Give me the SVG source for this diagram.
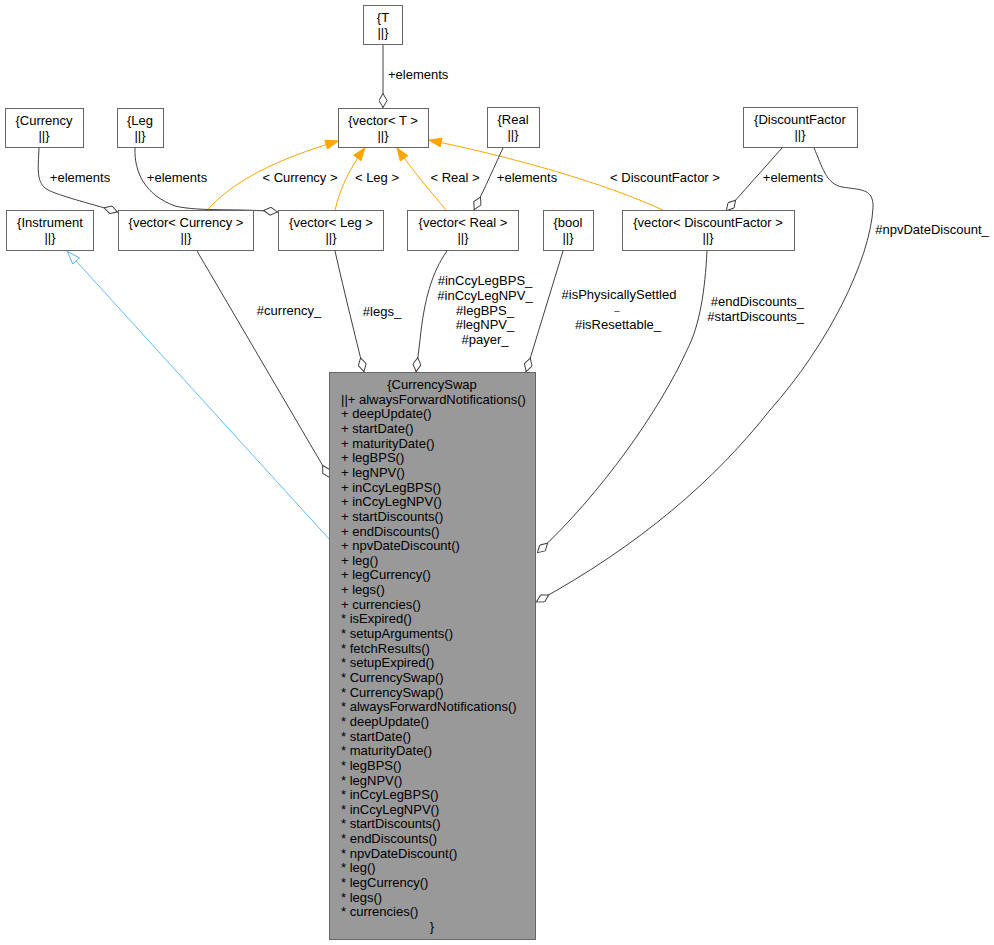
<svg xmlns="http://www.w3.org/2000/svg" width="994" height="945" viewBox="0 0 994 945">
<style>
text{font-family:"Liberation Sans",Arial,sans-serif;font-size:13px;fill:#000}
.box{fill:#fff;stroke:#666;stroke-width:1}
.main{fill:#999;stroke:#666;stroke-width:1}
.c{text-anchor:middle}
.e{text-anchor:end}
.gray{fill:none;stroke:#404040;stroke-width:1}
.orange{fill:none;stroke:#ffa500;stroke-width:1}
.blue{fill:none;stroke:#63b8ff;stroke-width:1}
</style>
<defs>
<marker id="dia" viewBox="0 0 15 9" refX="15" refY="4.5" markerWidth="15" markerHeight="9" markerUnits="userSpaceOnUse" orient="auto"><path d="M0.5,4.5 L7.5,0.5 L14.5,4.5 L7.5,8.5 Z" fill="#fff" stroke="#404040"/></marker>
<marker id="arrO" viewBox="0 0 13 10" refX="13" refY="5" markerWidth="13" markerHeight="10" markerUnits="userSpaceOnUse" orient="auto"><path d="M0.5,0.5 L13,5 L0.5,9.5 Z" fill="#ffa500" stroke="#ffa500"/></marker>
<marker id="arrB" viewBox="0 0 14 10" refX="14" refY="5" markerWidth="14" markerHeight="10" markerUnits="userSpaceOnUse" orient="auto"><path d="M0.5,0.5 L13.5,5 L0.5,9.5 Z" fill="#fff" stroke="#63b8ff"/></marker>
</defs>
<rect width="994" height="945" fill="#fff"/>
<g id="edges">
<path class="gray" d="M383,45 L383,108" marker-end="url(#dia)"/>
<text x="388" y="79">+elements</text>
<path class="orange" d="M207,210 C235,180 275,160 338,141" marker-end="url(#arrO)"/>
<text class="c" x="300" y="182">&lt; Currency &gt;</text>
<path class="orange" d="M335,210 C340,190 348,170 365,148" marker-end="url(#arrO)"/>
<text class="c" x="377" y="182">&lt; Leg &gt;</text>
<path class="orange" d="M446,210 C432,193 412,170 397,148" marker-end="url(#arrO)"/>
<text class="c" x="455" y="182">&lt; Real &gt;</text>
<path class="orange" d="M665,211 C620,190 540,163 429,140" marker-end="url(#arrO)"/>
<text class="c" x="665" y="182">&lt; DiscountFactor &gt;</text>
<path class="gray" d="M39,148 C38,170 36,183 48,190 C60,196 85,202 118,212" marker-end="url(#dia)"/>
<text class="c" x="80" y="182">+elements</text>
<path class="gray" d="M135,148 C134,172 145,195 175,206 C200,212 240,208 278,212" marker-end="url(#dia)"/>
<text class="c" x="177" y="182">+elements</text>
<path class="gray" d="M503,148 C496,163 485,188 474,210" marker-end="url(#dia)"/>
<text class="c" x="527" y="182">+elements</text>
<path class="gray" d="M782,148 L726,211" marker-end="url(#dia)"/>
<text class="c" x="793" y="182">+elements</text>
<path class="gray" d="M814,148 C822,166 826,184 842,187 C860,190 874,188 873,208 C870,260 828,345 770,410 C715,480 640,545 536,602" marker-end="url(#dia)"/>
<text class="c" x="932" y="234">#npvDateDiscount_</text>
<path class="blue" d="M330,540 L67,251" marker-end="url(#arrB)"/>
<path class="gray" d="M197,251 L330,478" marker-end="url(#dia)"/>
<text class="c" x="289" y="315">#currency_</text>
<path class="gray" d="M335,251 C345,295 355,335 364,372" marker-end="url(#dia)"/>
<text class="c" x="382" y="316">#legs_</text>
<path class="gray" d="M447,251 C432,272 424,300 420,340 L416,372" marker-end="url(#dia)"/>
<text class="c" x="485" y="285">#inCcyLegBPS_</text>
<text class="c" x="485" y="300">#inCcyLegNPV_</text>
<text class="c" x="485" y="315">#legBPS_</text>
<text class="c" x="485" y="329">#legNPV_</text>
<text class="c" x="485" y="344">#payer_</text>
<path class="gray" d="M563,251 L526,372" marker-end="url(#dia)"/>
<text class="c" x="619" y="299">#isPhysicallySettled</text>
<text class="c" x="617" y="310" style="font-size:9px">_</text>
<text class="c" x="618" y="329">#isResettable_</text>
<path class="gray" d="M707,251 C705,290 700,325 687,350 C660,410 600,495 537,553" marker-end="url(#dia)"/>
<text class="e" x="804" y="306">#endDiscounts_</text>
<text class="e" x="804" y="321">#startDiscounts_</text>
</g>
<g id="node_T"><rect class="box" x="363.5" y="5.5" width="39" height="39"/><text class="c" x="383" y="22">{T</text><text class="c" x="383" y="37">||}</text></g>
<g id="node_vectorT"><rect class="box" x="338.5" y="108.5" width="90" height="39"/><text class="c" x="383" y="125">{vector&lt; T &gt;</text><text class="c" x="383" y="140">||}</text></g>
<g id="node_Currency"><rect class="box" x="5.5" y="108.5" width="78" height="39"/><text class="c" x="44" y="125">{Currency</text><text class="c" x="44" y="140">||}</text></g>
<g id="node_Leg"><rect class="box" x="117.5" y="108.5" width="46" height="39"/><text class="c" x="140" y="125">{Leg</text><text class="c" x="140" y="140">||}</text></g>
<g id="node_Real"><rect class="box" x="487.5" y="107.5" width="52" height="40"/><text class="c" x="513" y="124">{Real</text><text class="c" x="513" y="139">||}</text></g>
<g id="node_DiscountFactor"><rect class="box" x="743.5" y="107.5" width="114" height="40"/><text class="c" x="800" y="124">{DiscountFactor</text><text class="c" x="800" y="139">||}</text></g>
<g id="node_Instrument"><rect class="box" x="6.5" y="210.5" width="87" height="40"/><text class="c" x="50" y="227">{Instrument</text><text class="c" x="50" y="242">||}</text></g>
<g id="node_vectorCurrency"><rect class="box" x="118.5" y="210.5" width="135" height="40"/><text class="c" x="186" y="227">{vector&lt; Currency &gt;</text><text class="c" x="186" y="242">||}</text></g>
<g id="node_vectorLeg"><rect class="box" x="278.5" y="210.5" width="105" height="40"/><text class="c" x="331" y="227">{vector&lt; Leg &gt;</text><text class="c" x="331" y="242">||}</text></g>
<g id="node_vectorReal"><rect class="box" x="407.5" y="210.5" width="111" height="40"/><text class="c" x="463" y="227">{vector&lt; Real &gt;</text><text class="c" x="463" y="242">||}</text></g>
<g id="node_bool"><rect class="box" x="543.5" y="210.5" width="50" height="40"/><text class="c" x="568" y="227">{bool</text><text class="c" x="568" y="242">||}</text></g>
<g id="node_vectorDiscountFactor"><rect class="box" x="622.5" y="210.5" width="172" height="40"/><text class="c" x="708" y="227">{vector&lt; DiscountFactor &gt;</text><text class="c" x="708" y="242">||}</text></g>
<g id="node_CurrencySwap">
<rect class="main" x="329.5" y="372.5" width="206" height="567"/>
<text class="c" x="432" y="389">{CurrencySwap</text>
<text x="341" y="389"><tspan x="341" dy="14.65">||+ alwaysForwardNotifications()</tspan><tspan x="341" dy="14.65">+ deepUpdate()</tspan><tspan x="341" dy="14.65">+ startDate()</tspan><tspan x="341" dy="14.65">+ maturityDate()</tspan><tspan x="341" dy="14.65">+ legBPS()</tspan><tspan x="341" dy="14.65">+ legNPV()</tspan><tspan x="341" dy="14.65">+ inCcyLegBPS()</tspan><tspan x="341" dy="14.65">+ inCcyLegNPV()</tspan><tspan x="341" dy="14.65">+ startDiscounts()</tspan><tspan x="341" dy="14.65">+ endDiscounts()</tspan><tspan x="341" dy="14.65">+ npvDateDiscount()</tspan><tspan x="341" dy="14.65">+ leg()</tspan><tspan x="341" dy="14.65">+ legCurrency()</tspan><tspan x="341" dy="14.65">+ legs()</tspan><tspan x="341" dy="14.65">+ currencies()</tspan><tspan x="341" dy="14.65">* isExpired()</tspan><tspan x="341" dy="14.65">* setupArguments()</tspan><tspan x="341" dy="14.65">* fetchResults()</tspan><tspan x="341" dy="14.65">* setupExpired()</tspan><tspan x="341" dy="14.65">* CurrencySwap()</tspan><tspan x="341" dy="14.65">* CurrencySwap()</tspan><tspan x="341" dy="14.65">* alwaysForwardNotifications()</tspan><tspan x="341" dy="14.65">* deepUpdate()</tspan><tspan x="341" dy="14.65">* startDate()</tspan><tspan x="341" dy="14.65">* maturityDate()</tspan><tspan x="341" dy="14.65">* legBPS()</tspan><tspan x="341" dy="14.65">* legNPV()</tspan><tspan x="341" dy="14.65">* inCcyLegBPS()</tspan><tspan x="341" dy="14.65">* inCcyLegNPV()</tspan><tspan x="341" dy="14.65">* startDiscounts()</tspan><tspan x="341" dy="14.65">* endDiscounts()</tspan><tspan x="341" dy="14.65">* npvDateDiscount()</tspan><tspan x="341" dy="14.65">* leg()</tspan><tspan x="341" dy="14.65">* legCurrency()</tspan><tspan x="341" dy="14.65">* legs()</tspan><tspan x="341" dy="14.65">* currencies()</tspan></text>
<text class="c" x="432" y="931">}</text>
</g>
</svg>
